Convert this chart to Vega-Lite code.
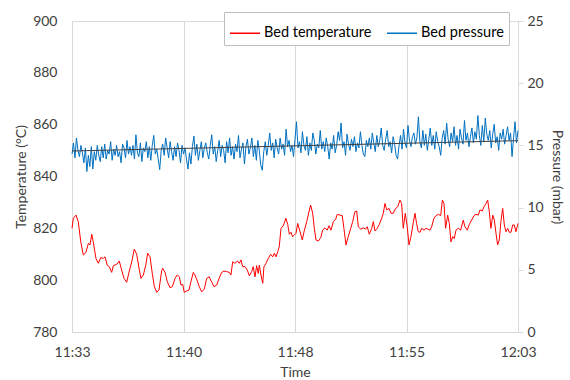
{
  "$schema": "https://vega.github.io/schema/vega-lite/v6.json",
  "width": 446,
  "height": 311,
  "autosize": "none",
  "padding": {"left": 72, "top": 21, "right": 52, "bottom": 48},
  "config": {
    "font": "Lato",
    "view": {"stroke": "#d9d9d9"},
    "axis": {"labelFont": "Lato", "titleFont": "Lato", "labelFontSize": 14, "titleFontSize": 14, "labelColor": "#404040", "titleColor": "#404040", "titleFontWeight": "normal", "domainColor": "#d9d9d9"},
    "legend": {"labelFont": "Lato", "labelFontSize": 14.5, "labelColor": "#000000"}
  },
  "datasets": {
    "temp": [
      {"t":0,"temp":820},{"t":0.09,"temp":823.9},{"t":0.27,"temp":825.1},{"t":0.42,"temp":822.6},{"t":0.59,"temp":814.8},{"t":0.76,"temp":809.7},{"t":0.94,"temp":810.7},{"t":1.1,"temp":814.2},{"t":1.21,"temp":813.6},{"t":1.33,"temp":817.7},{"t":1.43,"temp":814.8},{"t":1.61,"temp":808.4},{"t":1.77,"temp":806.5},{"t":1.93,"temp":808.7},{"t":2.11,"temp":808.4},{"t":2.22,"temp":809},{"t":2.37,"temp":805.8},{"t":2.51,"temp":805.2},{"t":2.67,"temp":803},{"t":2.78,"temp":805.6},{"t":3.01,"temp":806.1},{"t":3.18,"temp":807.4},{"t":3.34,"temp":803.9},{"t":3.5,"temp":800.7},{"t":3.68,"temp":799.2},{"t":3.83,"temp":803},{"t":4.02,"temp":807.1},{"t":4.19,"temp":812},{"t":4.35,"temp":810},{"t":4.53,"temp":803.9},{"t":4.64,"temp":800.7},{"t":4.8,"temp":802},{"t":4.96,"temp":805.8},{"t":5.09,"temp":810.4},{"t":5.25,"temp":809},{"t":5.4,"temp":802.6},{"t":5.54,"temp":797.5},{"t":5.7,"temp":795.3},{"t":5.85,"temp":796.2},{"t":6.03,"temp":803.6},{"t":6.1,"temp":804.6},{"t":6.26,"temp":803},{"t":6.41,"temp":799.4},{"t":6.59,"temp":797.1},{"t":6.75,"temp":797.5},{"t":6.93,"temp":800.7},{"t":7.08,"temp":802},{"t":7.22,"temp":801.3},{"t":7.33,"temp":798.1},{"t":7.45,"temp":798.4},{"t":7.55,"temp":795.3},{"t":7.71,"temp":795.8},{"t":7.87,"temp":796.2},{"t":8,"temp":799.4},{"t":8.16,"temp":803},{"t":8.27,"temp":802},{"t":8.43,"temp":799.7},{"t":8.56,"temp":797.5},{"t":8.72,"temp":795.5},{"t":8.9,"temp":796.6},{"t":9.06,"temp":800.7},{"t":9.23,"temp":801.3},{"t":9.4,"temp":799.2},{"t":9.55,"temp":797.5},{"t":9.73,"temp":798.1},{"t":9.91,"temp":800.9},{"t":10.07,"temp":803},{"t":10.22,"temp":803.5},{"t":10.41,"temp":803.3},{"t":10.58,"temp":803},{"t":10.69,"temp":802},{"t":10.81,"temp":807.1},{"t":10.96,"temp":806.5},{"t":11.12,"temp":807.4},{"t":11.25,"temp":806.5},{"t":11.37,"temp":807.8},{"t":11.48,"temp":805.2},{"t":11.64,"temp":805.2},{"t":11.79,"temp":803.9},{"t":11.93,"temp":801.7},{"t":12.09,"temp":803.4},{"t":12.19,"temp":805.2},{"t":12.31,"temp":801.3},{"t":12.42,"temp":805.6},{"t":12.53,"temp":802.6},{"t":12.6,"temp":805.8},{"t":12.71,"temp":802},{"t":12.83,"temp":798.8},{"t":12.91,"temp":805.2},{"t":13.05,"temp":806.5},{"t":13.2,"temp":808.4},{"t":13.36,"temp":810},{"t":13.5,"temp":809},{"t":13.61,"temp":810.4},{"t":13.72,"temp":809},{"t":13.84,"temp":811},{"t":13.94,"temp":812.9},{"t":14.06,"temp":820},{"t":14.21,"temp":821},{"t":14.39,"temp":823.9},{"t":14.51,"temp":821.5},{"t":14.62,"temp":817.7},{"t":14.73,"temp":818.5},{"t":14.84,"temp":816.8},{"t":14.95,"temp":817.4},{"t":15.07,"temp":818.1},{"t":15.18,"temp":821.9},{"t":15.34,"temp":818.7},{"t":15.49,"temp":815.5},{"t":15.62,"temp":819},{"t":15.79,"temp":822.6},{"t":15.94,"temp":826.4},{"t":16.05,"temp":829},{"t":16.19,"temp":825.8},{"t":16.3,"temp":820},{"t":16.41,"temp":815.5},{"t":16.57,"temp":815.1},{"t":16.73,"temp":816.4},{"t":16.86,"temp":819.3},{"t":17.02,"temp":820.2},{"t":17.17,"temp":819.3},{"t":17.29,"temp":821},{"t":17.42,"temp":819.3},{"t":17.58,"temp":822.6},{"t":17.74,"temp":823.6},{"t":17.84,"temp":825.4},{"t":18.03,"temp":825.1},{"t":18.18,"temp":824.9},{"t":18.29,"temp":820},{"t":18.43,"temp":813.6},{"t":18.58,"temp":816.8},{"t":18.75,"temp":820},{"t":18.88,"temp":822.6},{"t":19.03,"temp":826.4},{"t":19.15,"temp":826.7},{"t":19.26,"temp":820.6},{"t":19.42,"temp":819.7},{"t":19.59,"temp":820.2},{"t":19.75,"temp":819.7},{"t":19.86,"temp":820.6},{"t":20,"temp":817.7},{"t":20.16,"temp":820},{"t":20.27,"temp":822.6},{"t":20.38,"temp":819},{"t":20.53,"temp":820},{"t":20.67,"temp":821.5},{"t":20.83,"temp":823.9},{"t":20.94,"temp":825.8},{"t":21.05,"temp":829.6},{"t":21.17,"temp":827.1},{"t":21.32,"temp":827.7},{"t":21.46,"temp":825.8},{"t":21.61,"temp":825.8},{"t":21.77,"temp":827.7},{"t":21.91,"temp":828.3},{"t":22.06,"temp":830.9},{"t":22.17,"temp":829.6},{"t":22.28,"temp":820},{"t":22.42,"temp":825.8},{"t":22.55,"temp":820.6},{"t":22.67,"temp":813.6},{"t":22.8,"temp":816.8},{"t":22.96,"temp":822.3},{"t":23.07,"temp":825.8},{"t":23.18,"temp":821.9},{"t":23.29,"temp":818.7},{"t":23.41,"temp":818.5},{"t":23.52,"temp":820},{"t":23.68,"temp":819.3},{"t":23.81,"temp":820},{"t":23.96,"temp":819.6},{"t":24.08,"temp":819.3},{"t":24.19,"temp":820.6},{"t":24.35,"temp":823.9},{"t":24.48,"temp":824.9},{"t":24.64,"temp":825.4},{"t":24.8,"temp":824.9},{"t":24.91,"temp":830.9},{"t":25.02,"temp":829.6},{"t":25.13,"temp":820},{"t":25.27,"temp":825.1},{"t":25.38,"temp":821.9},{"t":25.49,"temp":814.8},{"t":25.61,"temp":816.8},{"t":25.71,"temp":816.1},{"t":25.83,"temp":819.3},{"t":25.98,"temp":820},{"t":26.14,"temp":819.3},{"t":26.32,"temp":823.2},{"t":26.43,"temp":820.6},{"t":26.59,"temp":819.3},{"t":26.72,"temp":821.5},{"t":26.88,"temp":823.2},{"t":27.04,"temp":824.9},{"t":27.17,"temp":825.4},{"t":27.33,"temp":825.1},{"t":27.44,"temp":827.1},{"t":27.6,"temp":826.7},{"t":27.71,"temp":828.3},{"t":27.85,"temp":829.6},{"t":27.96,"temp":830.9},{"t":28.07,"temp":826.4},{"t":28.18,"temp":820},{"t":28.3,"temp":825.1},{"t":28.41,"temp":823.2},{"t":28.52,"temp":818.1},{"t":28.63,"temp":813.6},{"t":28.74,"temp":815.5},{"t":28.85,"temp":822.6},{"t":28.97,"temp":827.7},{"t":29.08,"temp":821.3},{"t":29.19,"temp":818.7},{"t":29.31,"temp":820},{"t":29.41,"temp":818.5},{"t":29.53,"temp":818.5},{"t":29.64,"temp":821.3},{"t":29.75,"temp":821.3},{"t":29.86,"temp":818.7},{"t":30,"temp":821.9}
    ],
    "pres": [
      {"t":0,"p":14.3},{"t":0.1,"p":15.2},{"t":0.2,"p":14.0},{"t":0.3,"p":15.6},{"t":0.4,"p":14.6},{"t":0.5,"p":14.1},{"t":0.6,"p":15.0},{"t":0.7,"p":14.4},{"t":0.8,"p":13.6},{"t":0.9,"p":14.8},
      {"t":1,"p":12.9},{"t":1.1,"p":14.2},{"t":1.2,"p":13.3},{"t":1.3,"p":14.9},{"t":1.4,"p":13.1},{"t":1.5,"p":14.5},{"t":1.6,"p":13.8},{"t":1.7,"p":15.0},{"t":1.8,"p":14.2},{"t":1.9,"p":13.7},
      {"t":2,"p":14.9},{"t":2.1,"p":14.0},{"t":2.2,"p":15.1},{"t":2.3,"p":13.9},{"t":2.4,"p":14.6},{"t":2.5,"p":14.3},{"t":2.6,"p":15.3},{"t":2.7,"p":13.8},{"t":2.8,"p":14.7},{"t":2.9,"p":14.2},
      {"t":3,"p":15.0},{"t":3.1,"p":14.1},{"t":3.2,"p":14.5},{"t":3.3,"p":13.6},{"t":3.4,"p":15.1},{"t":3.5,"p":14.8},{"t":3.6,"p":14.0},{"t":3.7,"p":15.4},{"t":3.8,"p":14.3},{"t":3.9,"p":14.9},
      {"t":4,"p":14.2},{"t":4.1,"p":15.0},{"t":4.2,"p":13.9},{"t":4.3,"p":15.85},{"t":4.4,"p":14.4},{"t":4.5,"p":14.1},{"t":4.6,"p":15.2},{"t":4.7,"p":13.7},{"t":4.8,"p":14.8},{"t":4.9,"p":14.5},
      {"t":5,"p":15.3},{"t":5.1,"p":14.0},{"t":5.2,"p":14.9},{"t":5.3,"p":13.8},{"t":5.4,"p":15.0},{"t":5.5,"p":15.8},{"t":5.6,"p":14.3},{"t":5.7,"p":14.7},{"t":5.8,"p":13.9},{"t":5.9,"p":13.05},
      {"t":6,"p":14.6},{"t":6.1,"p":15.1},{"t":6.2,"p":14.2},{"t":6.3,"p":15.6},{"t":6.4,"p":14.8},{"t":6.5,"p":14.0},{"t":6.6,"p":15.3},{"t":6.7,"p":14.5},{"t":6.8,"p":13.8},{"t":6.9,"p":14.9},
      {"t":7,"p":14.1},{"t":7.1,"p":15.2},{"t":7.2,"p":14.6},{"t":7.3,"p":13.6},{"t":7.4,"p":15.0},{"t":7.5,"p":14.3},{"t":7.6,"p":14.8},{"t":7.7,"p":13.9},{"t":7.8,"p":13.1},{"t":7.9,"p":14.4},
      {"t":8,"p":13.5},{"t":8.1,"p":14.9},{"t":8.2,"p":15.75},{"t":8.3,"p":14.2},{"t":8.4,"p":15.1},{"t":8.5,"p":13.8},{"t":8.6,"p":14.6},{"t":8.7,"p":15.3},{"t":8.8,"p":14.0},{"t":8.9,"p":14.8},
      {"t":9,"p":15.2},{"t":9.1,"p":14.4},{"t":9.2,"p":13.9},{"t":9.3,"p":15.0},{"t":9.4,"p":15.85},{"t":9.5,"p":14.3},{"t":9.6,"p":14.9},{"t":9.7,"p":13.7},{"t":9.8,"p":14.6},{"t":9.9,"p":15.4},
      {"t":10,"p":14.1},{"t":10.1,"p":15.0},{"t":10.2,"p":14.6},{"t":10.3,"p":13.6},{"t":10.4,"p":15.3},{"t":10.5,"p":14.4},{"t":10.6,"p":15.6},{"t":10.7,"p":14.2},{"t":10.8,"p":14.9},{"t":10.9,"p":13.9},
      {"t":11,"p":15.1},{"t":11.1,"p":14.5},{"t":11.2,"p":15.8},{"t":11.3,"p":14.0},{"t":11.4,"p":14.7},{"t":11.5,"p":15.2},{"t":11.6,"p":13.5},{"t":11.7,"p":14.9},{"t":11.8,"p":15.5},{"t":11.9,"p":14.3},
      {"t":12,"p":14.8},{"t":12.1,"p":15.6},{"t":12.2,"p":14.1},{"t":12.3,"p":15.0},{"t":12.4,"p":13.8},{"t":12.5,"p":15.4},{"t":12.6,"p":14.6},{"t":12.7,"p":13.4},{"t":12.8,"p":13.0},{"t":12.9,"p":14.5},
      {"t":13,"p":15.3},{"t":13.1,"p":14.2},{"t":13.2,"p":15.0},{"t":13.3,"p":16.0},{"t":13.4,"p":14.6},{"t":13.5,"p":15.2},{"t":13.6,"p":14.0},{"t":13.7,"p":15.5},{"t":13.8,"p":14.8},{"t":13.9,"p":14.3},
      {"t":14,"p":15.6},{"t":14.1,"p":14.7},{"t":14.2,"p":15.1},{"t":14.3,"p":14.2},{"t":14.4,"p":16.3},{"t":14.5,"p":14.9},{"t":14.6,"p":15.4},{"t":14.7,"p":14.5},{"t":14.8,"p":15.0},{"t":14.9,"p":14.1},
      {"t":15,"p":15.5},{"t":15.1,"p":16.9},{"t":15.2,"p":14.8},{"t":15.3,"p":15.3},{"t":15.4,"p":14.4},{"t":15.5,"p":16.1},{"t":15.6,"p":15.0},{"t":15.7,"p":14.6},{"t":15.8,"p":15.7},{"t":15.9,"p":14.2},
      {"t":16,"p":15.2},{"t":16.1,"p":14.6},{"t":16.2,"p":16.0},{"t":16.3,"p":15.4},{"t":16.4,"p":14.3},{"t":16.5,"p":15.1},{"t":16.6,"p":14.8},{"t":16.7,"p":16.2},{"t":16.8,"p":14.7},{"t":16.9,"p":15.3},
      {"t":17,"p":14.5},{"t":17.1,"p":15.6},{"t":17.2,"p":14.9},{"t":17.3,"p":13.9},{"t":17.4,"p":15.2},{"t":17.5,"p":14.7},{"t":17.6,"p":15.8},{"t":17.7,"p":14.4},{"t":17.8,"p":15.0},{"t":17.9,"p":16.1},
      {"t":18,"p":15.4},{"t":18.1,"p":16.8},{"t":18.2,"p":14.8},{"t":18.3,"p":15.3},{"t":18.4,"p":14.2},{"t":18.5,"p":15.9},{"t":18.6,"p":15.1},{"t":18.7,"p":14.6},{"t":18.8,"p":15.5},{"t":18.9,"p":14.9},
      {"t":19,"p":15.7},{"t":19.1,"p":14.5},{"t":19.2,"p":15.2},{"t":19.3,"p":14.8},{"t":19.4,"p":16.1},{"t":19.5,"p":15.0},{"t":19.6,"p":14.3},{"t":19.7,"p":14.1},{"t":19.8,"p":15.4},{"t":19.9,"p":14.9},
      {"t":20,"p":15.6},{"t":20.1,"p":14.7},{"t":20.2,"p":16.0},{"t":20.3,"p":15.2},{"t":20.4,"p":14.5},{"t":20.5,"p":15.8},{"t":20.6,"p":14.9},{"t":20.7,"p":15.4},{"t":20.8,"p":16.4},{"t":20.9,"p":15.0},
      {"t":21,"p":14.6},{"t":21.1,"p":15.5},{"t":21.2,"p":16.2},{"t":21.3,"p":14.9},{"t":21.4,"p":15.3},{"t":21.5,"p":14.4},{"t":21.6,"p":15.7},{"t":21.7,"p":15.1},{"t":21.8,"p":14.2},{"t":21.9,"p":13.9},
      {"t":22,"p":15.0},{"t":22.1,"p":15.8},{"t":22.2,"p":14.7},{"t":22.3,"p":16.3},{"t":22.4,"p":15.2},{"t":22.5,"p":14.8},{"t":22.6,"p":16.6},{"t":22.7,"p":15.4},{"t":22.8,"p":14.9},{"t":22.9,"p":15.7},
      {"t":23,"p":16.0},{"t":23.1,"p":15.1},{"t":23.2,"p":15.6},{"t":23.3,"p":17.3},{"t":23.4,"p":15.3},{"t":23.5,"p":14.8},{"t":23.6,"p":16.2},{"t":23.7,"p":15.0},{"t":23.8,"p":15.9},{"t":23.9,"p":14.6},
      {"t":24,"p":15.5},{"t":24.1,"p":16.4},{"t":24.2,"p":15.0},{"t":24.3,"p":15.8},{"t":24.4,"p":14.7},{"t":24.5,"p":16.1},{"t":24.6,"p":15.3},{"t":24.7,"p":14.9},{"t":24.8,"p":14.2},{"t":24.9,"p":15.6},
      {"t":25,"p":16.2},{"t":25.1,"p":15.1},{"t":25.2,"p":16.8},{"t":25.3,"p":15.5},{"t":25.4,"p":14.9},{"t":25.5,"p":16.0},{"t":25.6,"p":15.3},{"t":25.7,"p":16.5},{"t":25.8,"p":15.0},{"t":25.9,"p":15.8},
      {"t":26,"p":14.7},{"t":26.1,"p":16.3},{"t":26.2,"p":15.6},{"t":26.3,"p":15.1},{"t":26.4,"p":17.0},{"t":26.5,"p":15.4},{"t":26.6,"p":16.0},{"t":26.7,"p":14.9},{"t":26.8,"p":15.7},{"t":26.9,"p":16.4},
      {"t":27,"p":15.2},{"t":27.1,"p":16.1},{"t":27.2,"p":15.5},{"t":27.3,"p":17.4},{"t":27.4,"p":15.8},{"t":27.5,"p":15.0},{"t":27.6,"p":16.6},{"t":27.7,"p":15.3},{"t":27.8,"p":17.2},{"t":27.9,"p":15.9},
      {"t":28,"p":15.4},{"t":28.1,"p":16.2},{"t":28.2,"p":14.8},{"t":28.3,"p":15.9},{"t":28.4,"p":16.7},{"t":28.5,"p":15.2},{"t":28.6,"p":15.7},{"t":28.7,"p":14.6},{"t":28.8,"p":16.0},{"t":28.9,"p":15.5},
      {"t":29,"p":16.3},{"t":29.1,"p":15.1},{"t":29.2,"p":15.8},{"t":29.3,"p":16.5},{"t":29.4,"p":15.4},{"t":29.5,"p":16.0},{"t":29.6,"p":14.1},{"t":29.7,"p":15.6},{"t":29.8,"p":16.9},{"t":29.9,"p":15.2},
      {"t":30,"p":16.2}
    ],
    "trend": [{"t":0,"p":14.55},{"t":30,"p":15.38}]
  },
  "layer": [
    {
      "data": {"name": "temp"},
      "mark": {"type": "line", "strokeWidth": 1},
      "encoding": {
        "x": {"field": "t", "type": "quantitative", "scale": {"domain": [0, 30], "nice": false, "zero": false},
          "axis": {"values": [0, 7.5, 15, 22.5, 30], "labelExpr": "datum.value == 0 ? '11:33' : datum.value == 7.5 ? '11:40' : datum.value == 15 ? '11:48' : datum.value == 22.5 ? '11:55' : '12:03'", "title": "Time", "grid": true, "gridColor": "#d9d9d9", "ticks": false, "labelPadding": 13, "titlePadding": 6, "labelFlush": false}},
        "y": {"field": "temp", "type": "quantitative", "scale": {"domain": [780, 900], "nice": false, "zero": false},
          "axis": {"orient": "left", "values": [780, 800, 820, 840, 860, 880, 900], "grid": false, "ticks": false, "labelPadding": 15, "title": "Temperature (°C)", "titlePadding": 4}},
        "color": {"datum": "Bed temperature", "type": "nominal",
          "scale": {"domain": ["Bed temperature", "Bed pressure"], "range": ["#ff0000", "#0070c0"]},
          "legend": {"title": null, "orient": "none", "legendX": 152, "legendY": -9, "direction": "horizontal", "gridAlign": "all", "symbolType": "stroke", "symbolSize": 900, "symbolStrokeWidth": 1.5, "labelOffset": 3, "columnPadding": 12, "padding": 5, "strokeColor": "#bfbfbf", "fillColor": "#ffffff"}}
      }
    },
    {
      "encoding": {
        "x": {"field": "t", "type": "quantitative"},
        "y": {"field": "p", "type": "quantitative", "scale": {"domain": [0, 25], "nice": false},
          "axis": {"orient": "right", "values": [0, 5, 10, 15, 20, 25], "grid": false, "ticks": true, "tickSize": 5, "tickColor": "#d9d9d9", "labelPadding": 4, "title": "Pressure (mbar)", "titlePadding": 6}}
      },
      "layer": [
        {"data": {"name": "pres"}, "mark": {"type": "line", "strokeWidth": 1}, "encoding": {"color": {"datum": "Bed pressure", "type": "nominal"}}},
        {"data": {"name": "trend"}, "mark": {"type": "line", "strokeWidth": 1, "color": "#404040"}, "encoding": {}}
      ]
    }
  ],
  "resolve": {"scale": {"y": "independent"}}
}
